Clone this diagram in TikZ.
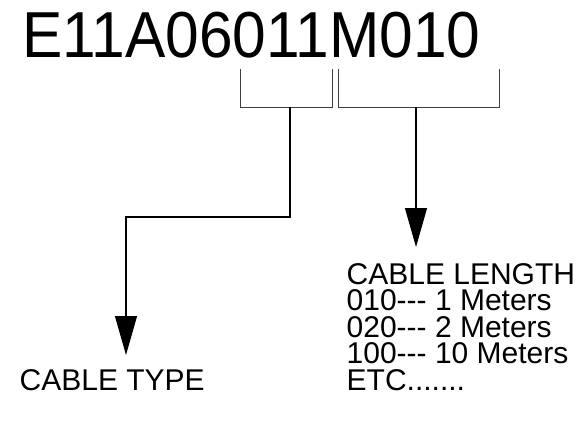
\documentclass[tikz,border=0pt]{standalone}
\usepackage{fontspec}
\setmainfont{Liberation Sans}
\usetikzlibrary{arrows.meta}
\begin{document}
\begin{tikzpicture}[x=1pt,y=-1pt,
  bracket/.style={draw=black!75,line width=0.8pt},
  stem/.style={draw=black,line width=1.2pt},
  bigarrow/.style={-{Triangle[length=39pt,width=22pt]}},
  label/.style={inner sep=0pt,anchor=base west,font=\fontsize{30}{26.5}\selectfont,align=left}]
\useasboundingbox (0,0) rectangle (583,440);
\node[inner sep=0pt,anchor=base west,font=\fontsize{65}{65}\selectfont] (code) at (22,57) {\scalebox{0.93}[1]{E11A06011M010}};
% brackets
\coordinate (l1) at (240,69); \coordinate (l2) at (240,107);
\coordinate (l3) at (332,107); \coordinate (l4) at (332,69);
\coordinate (r1) at (338,69); \coordinate (r2) at (338,107);
\coordinate (r3) at (499,107); \coordinate (r4) at (499,69);
\coordinate (ls) at (290,107); \coordinate (lk1) at (290,217); \coordinate (lk2) at (126,217);
\coordinate (lt) at (126,355);
\coordinate (rs) at (416,107); \coordinate (rt) at (416,247);
\draw[bracket] (l1) -- (l2) -- (l3) -- (l4);
\draw[bracket] (r1) -- (r2) -- (r3) -- (r4);
\draw[stem,bigarrow] (ls) -- (lk1) -- (lk2) -- (lt);
\draw[stem,bigarrow] (rs) -- (rt);
\node[label] (type) at (19.5,390) {CABLE TYPE};
\node[label] (len) at (346.5,390) {CABLE LENGTH\\010-{}-{}- 1 Meters\\020-{}-{}- 2 Meters\\100-{}-{}- 10 Meters\\ETC.......};
\end{tikzpicture}
\end{document}
